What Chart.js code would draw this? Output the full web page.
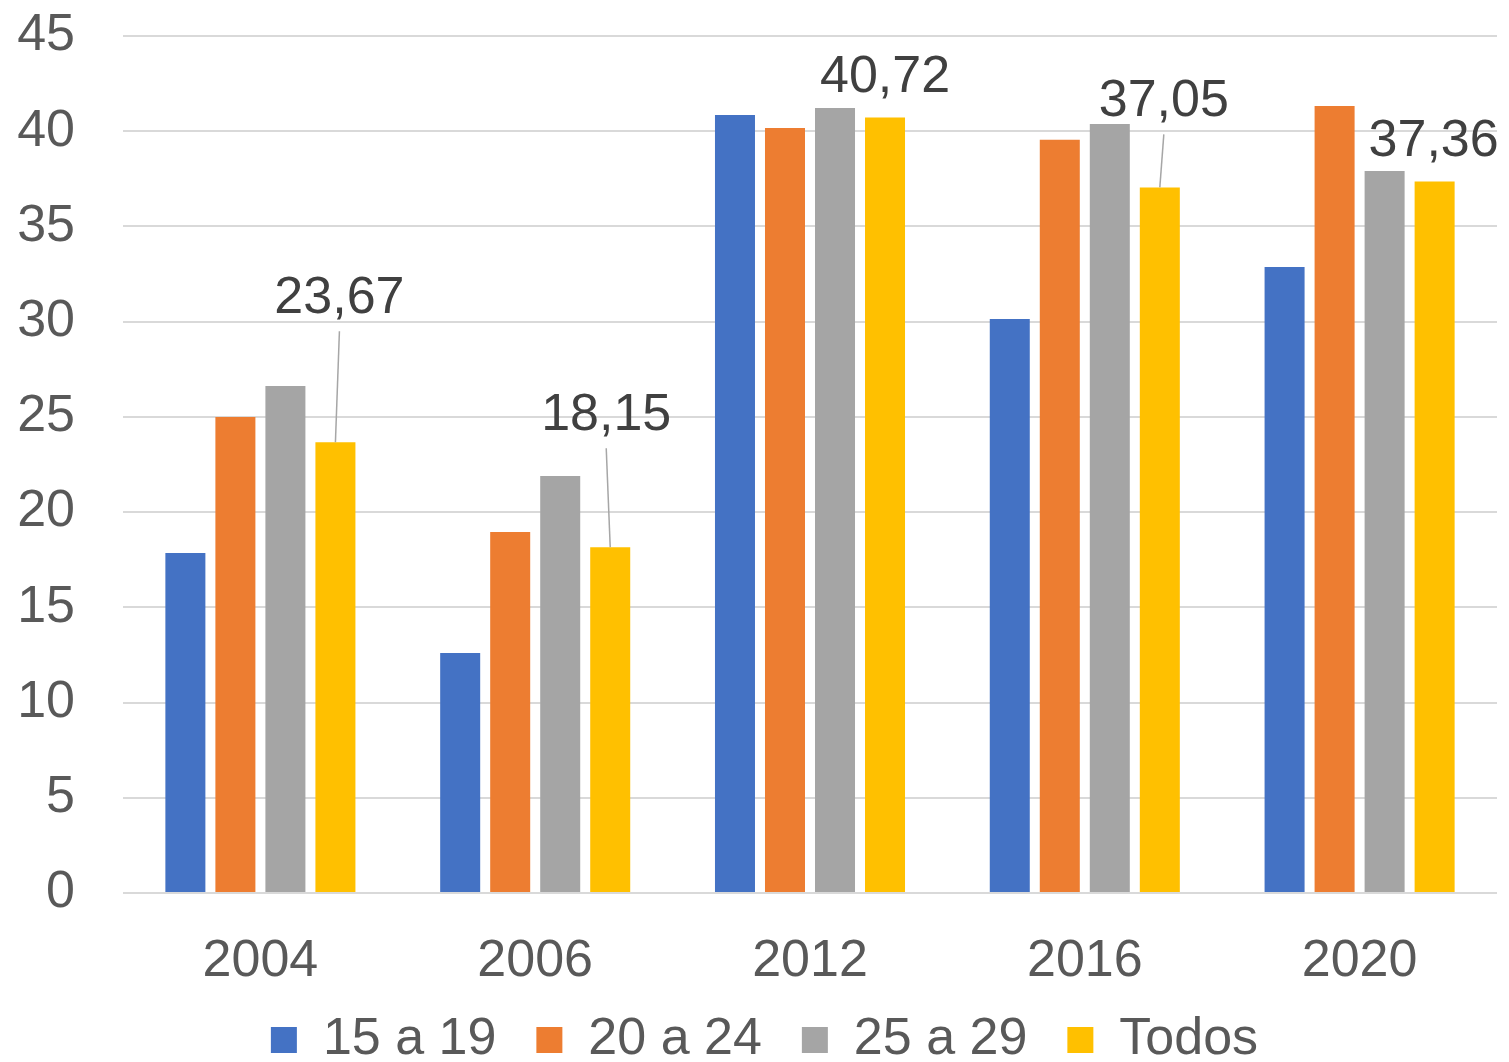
<!DOCTYPE html>
<html>
<head>
<meta charset="utf-8">
<script src="https://cdn.jsdelivr.net/npm/chart.js@4/dist/chart.umd.min.js"></script>
<style>
  html, body { margin: 0; padding: 0; background: #fff; }
  #wrap { width: 1509px; height: 1062px; }
</style>
</head>
<body>
<div id="wrap"><canvas id="chart"></canvas></div>
<script>
// Datos del gráfico
const years = ['2004', '2006', '2012', '2016', '2020'];
const grupo15a19 = [17.85, 12.60, 40.85, 30.14, 32.87];
const grupo20a24 = [25.00, 18.96, 40.17, 39.55, 41.33];
const grupo25a29 = [26.62, 21.90, 41.22, 40.38, 37.91];
const todos = [23.67, 18.15, 40.72, 37.05, 37.36];
const yTicks = [0, 5, 10, 15, 20, 25, 30, 35, 40, 45];

// Posición de las etiquetas de "Todos" (desplazamiento en px respecto al tope de la barra)
const labelOffsets = [
    { dx: 4, dy: -144 },
    { dx: -4, dy: -132 },
    { dx: 0, dy: -40 },
    { dx: 4, dy: -86 },
    { dx: -1, dy: -40 }
];

const FONT = '"Liberation Sans", Arial, sans-serif';

const todosLabels = {
    id: 'todosLabels',
    afterLayout(chart) {
        // ajustar la leyenda como en el original (algo a la derecha y más arriba)
        const lg = chart.legend;
        if (lg) {
            lg.left += 16;
            lg.right += 16;
            lg.top = chart.height - 88;
        }
    },
    afterDatasetsDraw(chart) {
        const meta = chart.getDatasetMeta(3);
        const ctx = chart.ctx;
        ctx.save();
        ctx.font = `52px ${FONT}`;
        ctx.textAlign = 'center';
        ctx.textBaseline = 'middle';
        meta.data.forEach((bar, i) => {
            const off = labelOffsets[i];
            const lx = bar.x + off.dx;
            const ly = bar.y + off.dy;
            if (off.dy < -60) {
                // línea guía
                ctx.strokeStyle = '#a6a6a6';
                ctx.lineWidth = 1.5;
                ctx.beginPath();
                ctx.moveTo(lx, ly + 33);
                ctx.lineTo(bar.x, bar.y);
                ctx.stroke();
            }
            ctx.fillStyle = '#404040';
            ctx.fillText(todos[i].toFixed(2).replace('.', ','), lx, ly);
        });
        ctx.restore();
    }
};

new Chart(document.getElementById('chart'), {
    type: 'bar',
    data: {
        labels: years,
        datasets: [
            { label: '15 a 19', data: grupo15a19, backgroundColor: '#4472C4' },
            { label: '20 a 24', data: grupo20a24, backgroundColor: '#ED7D31' },
            { label: '25 a 29', data: grupo25a29, backgroundColor: '#A5A5A5' },
            { label: 'Todos', data: todos, backgroundColor: '#FFC000' }
        ]
    },
    options: {
        responsive: true,
        maintainAspectRatio: false,
        animation: false,
        devicePixelRatio: 1,
        categoryPercentage: 0.728,
        barPercentage: 0.8,
        layout: { padding: { top: 36, right: 12, left: 0, bottom: 0 } },
        plugins: {
            tooltip: { enabled: false },
            legend: {
                position: 'bottom',
                maxHeight: 79,
                labels: {
                    font: { family: FONT, size: 52, lineHeight: 1 },
                    color: '#595959',
                    boxWidth: 26,
                    boxHeight: 26,
                    padding: 40
                }
            }
        },
        scales: {
            x: {
                grid: { display: false },
                border: { display: false },
                ticks: {
                    color: '#595959',
                    font: { family: FONT, size: 52, lineHeight: 1 },
                    padding: 35
                },
                afterFit: (s) => { s.height = 90; }
            },
            y: {
                min: 0,
                max: 45,
                afterBuildTicks: (s) => { s.ticks = yTicks.map(v => ({ value: v })); },
                grid: { color: '#d9d9d9', lineWidth: 2, drawTicks: false },
                border: { display: false },
                ticks: {
                    color: '#595959',
                    font: { family: FONT, size: 52, lineHeight: 1 },
                    padding: 48
                },
                afterFit: (s) => {
                    s.width = 123;
                    s.paddingTop = 0;
                    s.paddingBottom = 0;
                }
            }
        }
    },
    plugins: [todosLabels]
});
</script>
</body>
</html>
